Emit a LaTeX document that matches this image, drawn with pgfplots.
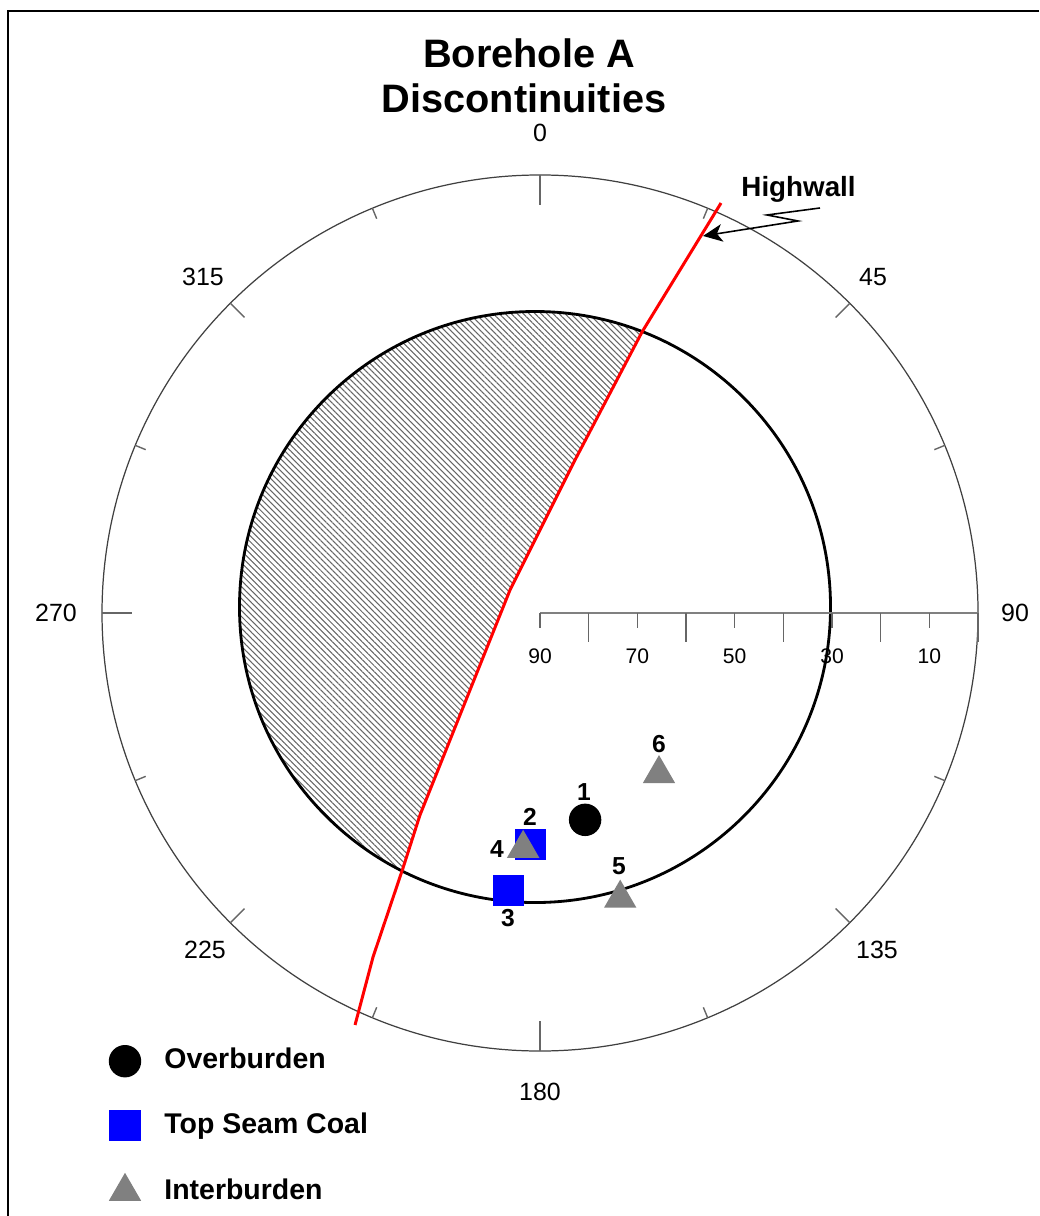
\documentclass[border=0pt]{standalone}
\usepackage{fontspec}
\setmainfont{Liberation Sans}
\usepackage{pgfplots}
\usepackage{pgfplotstable}
\pgfplotsset{compat=1.18}
\usetikzlibrary{patterns.meta,arrows.meta}

\pgfplotstableread{
az dip
167.7 46.5
}\overburden
\pgfplotstableread{
az dip
182.3 42.4
186.5 32.6
}\topseam
\pgfplotstableread{
az dip
184.1 41.5
164.3 29.1
143.5 48.9
}\interburden

\begin{document}
\begin{tikzpicture}
\begin{axis}[
  width=10.39cm, height=12.16cm, scale only axis,
  xmin=-110.96, xmax=102.53, ymin=-123.90, ymax=125.96,
  axis lines=none, xtick=\empty, ytick=\empty, clip=false,
  legend cell align=left,
  legend style={at={(axis cs:-90.77,-87.32)}, anchor=north west, draw=none, fill=none,
    font=\bfseries\fontsize{8.1}{9.7}\selectfont, row sep=9.6pt, column sep=6.8pt,
    nodes={inner sep=0pt}},
]
% hatched region
\fill[pattern={Lines[angle=-45,distance=1.2pt,line width=0.3pt]}, pattern color=black!60]
  (20.90,57.80) arc[start angle=68.81,end angle=243.14,radius=60.72]
  -- (-24.66,-41.50) -- (-6.16,4.73) -- (7.19,31.44) -- cycle;
% circles
\draw[black!75, line width=0.35pt] (0,0) circle[radius=90];
\draw[black, line width=0.8pt] (-1.03,1.23) circle[radius=60.72];
% outer ticks
\pgfplotsinvokeforeach{0,90,180,270}{
  \draw[black!60, line width=0.4pt] ({90*sin(#1)},{90*cos(#1)}) -- ({83.8*sin(#1)},{83.8*cos(#1)});
}
\pgfplotsinvokeforeach{45,135,225,315}{
  \draw[black!60, line width=0.4pt] ({90*sin(#1)},{90*cos(#1)}) -- ({85.9*sin(#1)},{85.9*cos(#1)});
}
\pgfplotsinvokeforeach{22.5,67.5,112.5,157.5,202.5,247.5,292.5,337.5}{
  \draw[black!60, line width=0.4pt] ({90*sin(#1)},{90*cos(#1)}) -- ({87.7*sin(#1)},{87.7*cos(#1)});
}
% radial axis
\draw[black!50, line width=0.45pt] (0,0) -- (90,0);
\pgfplotsinvokeforeach{0,20,40,60,80}{
  \draw[black!60, line width=0.4pt] (#1,0) -- (#1,-3.0);
  \node[font=\fontsize{6}{7}\selectfont] at (#1,-8.84) {\pgfmathparse{int(90-#1)}\pgfmathresult};
}
\pgfplotsinvokeforeach{10,30,50,70,90}{
  \draw[black!60, line width=0.4pt] (#1,0) -- (#1,-6.0);
}
% azimuth labels
\node[font=\fontsize{7.1}{8}\selectfont] at (0,98.63) {0};
\node[font=\fontsize{7.1}{8}\selectfont] at (68.42,69.04) {45};
\node[font=\fontsize{7.1}{8}\selectfont] at (97.60,0) {90};
\node[font=\fontsize{7.1}{8}\selectfont] at (69.25,-69.25) {135};
\node[font=\fontsize{7.1}{8}\selectfont] at (0,-98.42) {180};
\node[font=\fontsize{7.1}{8}\selectfont] at (-68.84,-69.25) {225};
\node[font=\fontsize{7.1}{8}\selectfont] at (-99.45,0) {270};
\node[font=\fontsize{7.1}{8}\selectfont] at (-69.25,69.04) {315};
% highwall line
\addplot[red, line width=0.85pt, forget plot] coordinates {
  (-38.01,-84.65) (-34.31,-70.68) (-28.15,-52.39) (-24.66,-41.50)
  (-6.16,4.73) (7.19,31.44) (20.96,57.74) (37.19,84.24)};
% data points
\addplot[only marks, mark=*, mark size=4.41pt, black]
  table[x expr={(90-\thisrow{dip})*sin(\thisrow{az})}, y expr={(90-\thisrow{dip})*cos(\thisrow{az})}] {\overburden};
\addlegendentry{Overburden}
\addplot[only marks, mark=square*, mark size=4.27pt, blue, mark options={fill=blue, draw=blue}]
  table[x expr={(90-\thisrow{dip})*sin(\thisrow{az})}, y expr={(90-\thisrow{dip})*cos(\thisrow{az})}] {\topseam};
\addlegendentry{Top Seam Coal}
\addplot[only marks, mark=triangle*, mark size=4.92pt, color={rgb,255:red,128;green,128;blue,128}]
  table[x expr={(90-\thisrow{dip})*sin(\thisrow{az})}, y expr={(90-\thisrow{dip})*cos(\thisrow{az})}] {\interburden};
\addlegendentry{Interburden}
% point labels
\node[font=\bfseries\fontsize{7}{8}\selectfont] at (9.04,-36.78) {1};
\node[font=\bfseries\fontsize{7}{8}\selectfont] at (-2.05,-41.92) {2};
\node[font=\bfseries\fontsize{7}{8}\selectfont] at (-6.58,-62.67) {3};
\node[font=\bfseries\fontsize{7}{8}\selectfont] at (-8.84,-48.49) {4};
\node[font=\bfseries\fontsize{7}{8}\selectfont] at (16.23,-51.99) {5};
\node[font=\bfseries\fontsize{7}{8}\selectfont] at (24.45,-26.92) {6};
% titles
\node[font=\bfseries\fontsize{11.3}{13}\selectfont, anchor=base] at (-2.26,111.99) {Borehole A};
\node[font=\bfseries\fontsize{11.3}{13}\selectfont, anchor=base] at (-3.29,102.94) {Discontinuities};
% highwall annotation
\node[font=\bfseries\fontsize{7.9}{9}\selectfont, anchor=base] at (53.12,85.48) {Highwall};
\draw[black, line width=0.45pt, -{Stealth[length=5.5pt,width=5pt,inset=1.5pt]}]
  (57.53,83.22) -- (46.64,81.78) -- (53.01,80.55) -- (33.49,77.47);
% frame
\draw[black, line width=0.65pt, line cap=butt] (102.53,123.70) -- (-109.31,123.70) -- (-109.31,-123.90);
\end{axis}
\pgfresetboundingbox
\useasboundingbox (current axis.south west) rectangle (current axis.north east);
\end{tikzpicture}
\end{document}
